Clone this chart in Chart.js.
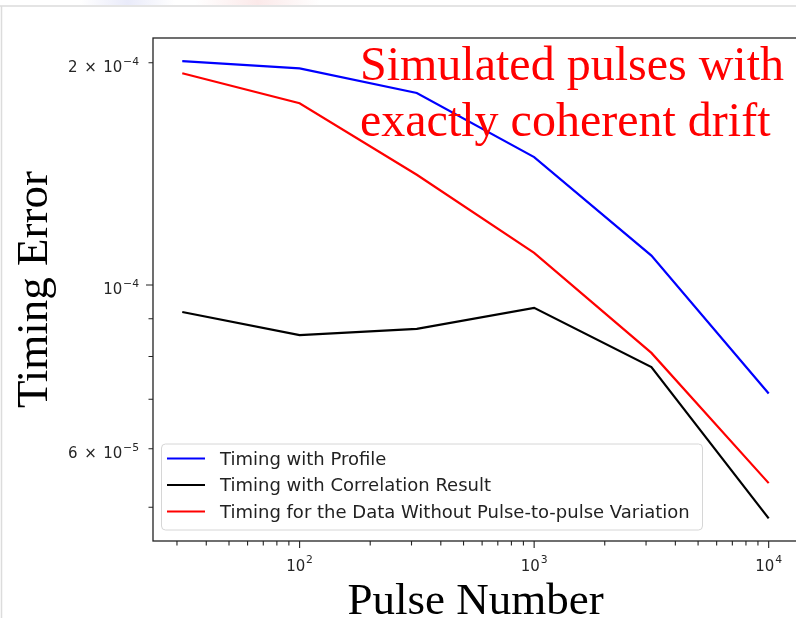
<!DOCTYPE html>
<html>
<head>
<meta charset="utf-8">
<script src="https://cdn.jsdelivr.net/npm/chart.js@4.4.1/dist/chart.umd.min.js"></script>
<style>
  html, body { margin: 0; padding: 0; background: #fff; overflow: hidden; width: 796px; height: 618px; }
  canvas { display: block; }
</style>
</head>
<body>
<canvas id="c" width="800" height="618"></canvas>
<script>
// Timing error versus number of pulses (log-log)
const pulseNumbers = [31.6, 100, 316, 1000, 3162, 10000];
const profileError = [2.01e-4, 1.965e-4, 1.82e-4, 1.49e-4, 1.096e-4, 7.13e-5];
const correlationError = [9.19e-5, 8.55e-5, 8.72e-5, 9.31e-5, 7.74e-5, 4.83e-5];
const noVariationError = [1.935e-4, 1.762e-4, 1.41e-4, 1.105e-4, 8.09e-5, 5.39e-5];

const seriesLabels = [
  'Timing with Profile',
  'Timing with Correlation Result',
  'Timing for the Data Without Pulse-to-pulse Variation'
];
const seriesColors = ['#0000ff', '#000000', '#ff0000'];

// tick positions; labels are [mantissa, exponent] pairs, null where unlabeled
const xTickValues = [30, 40, 50, 60, 70, 80, 90, 100, 200, 300, 400, 500, 600, 700, 800, 900,
                     1000, 2000, 3000, 4000, 5000, 6000, 7000, 8000, 9000, 10000];
const xTickLabels = [null, null, null, null, null, null, null, ['', '2'], null, null, null, null, null, null, null, null,
                     ['', '3'], null, null, null, null, null, null, null, null, ['', '4']];
const xMajorTicks = [100, 1000, 10000];

const yTickValues = [5e-5, 6e-5, 7e-5, 8e-5, 9e-5, 1e-4, 2e-4];
const yTickLabels = [null, ['6', '\u22125'], null, null, null, ['', '\u22124'], ['2', '\u22124']];
const yMajorTicks = [1e-4];

const titleX = 'Pulse Number';
const titleY = 'Timing Error';
const noteLines = ['Simulated pulses with', 'exactly coherent drift'];

Chart.defaults.font.family = '"DejaVu Sans", sans-serif';
Chart.defaults.color = '#222';

const seriesValues = [profileError, correlationError, noVariationError];

const datasets = seriesValues.map((vals, i) => ({
  label: seriesLabels[i],
  data: pulseNumbers.map((x, j) => ({ x: x, y: vals[j] })),
  borderColor: seriesColors[i],
  backgroundColor: seriesColors[i],
  borderWidth: 2.2,
  pointRadius: 0,
  tension: 0,
  fill: false,
  order: 2 - i
}));

function roundRectPath(ctx, x, y, w, h, r) {
  ctx.beginPath();
  ctx.moveTo(x + r, y);
  ctx.lineTo(x + w - r, y);
  ctx.arcTo(x + w, y, x + w, y + r, r);
  ctx.lineTo(x + w, y + h - r);
  ctx.arcTo(x + w, y + h, x + w - r, y + h, r);
  ctx.lineTo(x + r, y + h);
  ctx.arcTo(x, y + h, x, y + h - r, r);
  ctx.lineTo(x, y + r);
  ctx.arcTo(x, y, x + r, y, r);
  ctx.closePath();
}

const BASE_FONT = '15px "DejaVu Sans"';
const SUP_FONT = '10.8px "DejaVu Sans"';

// draws "m × 10^e" with a raised exponent; align 'right' or 'center' at x
function drawPowerLabel(ctx, label, x, baseline, align) {
  const [mant, expo] = label;
  ctx.font = BASE_FONT;
  const mantW = mant ? ctx.measureText(mant).width : 0;
  const timesW = mant ? ctx.measureText('\u00d7').width : 0;
  const gap = 6.5;
  const tenW = ctx.measureText('10').width;
  ctx.font = SUP_FONT;
  const expW = ctx.measureText(expo).width;
  const total = (mant ? mantW + gap + timesW + gap : 0) + tenW + 0.8 + expW;
  let cx = align === 'right' ? x - total : x - total / 2;
  ctx.textAlign = 'left';
  ctx.textBaseline = 'alphabetic';
  ctx.font = BASE_FONT;
  if (mant) {
    ctx.fillText(mant, cx, baseline);
    cx += mantW + gap;
    ctx.fillText('\u00d7', cx, baseline);
    cx += timesW + gap;
  }
  ctx.fillText('10', cx, baseline);
  cx += tenW + 0.8;
  ctx.font = SUP_FONT;
  ctx.fillText(expo, cx, baseline - 7.2);
}

const decorations = {
  id: 'decorations',
  beforeDraw(chart) {
    const ctx = chart.ctx;
    ctx.save();
    ctx.fillStyle = '#ffffff';
    ctx.fillRect(0, 0, chart.width, chart.height);
    // faint tints along the top edge
    let g = ctx.createLinearGradient(80, 0, 175, 0);
    g.addColorStop(0, 'rgba(215,218,245,0)');
    g.addColorStop(0.5, 'rgba(215,218,245,0.55)');
    g.addColorStop(1, 'rgba(215,218,245,0)');
    ctx.fillStyle = g;
    ctx.fillRect(80, 0, 95, 5);
    g = ctx.createLinearGradient(195, 0, 320, 0);
    g.addColorStop(0, 'rgba(248,215,215,0)');
    g.addColorStop(0.5, 'rgba(248,215,215,0.55)');
    g.addColorStop(1, 'rgba(248,215,215,0)');
    ctx.fillStyle = g;
    ctx.fillRect(195, 0, 125, 5);
    // light page frame
    ctx.strokeStyle = '#dcdcdc';
    ctx.lineWidth = 1.5;
    ctx.beginPath();
    ctx.moveTo(0, 6);
    ctx.lineTo(chart.width, 6);
    ctx.moveTo(1.5, 6);
    ctx.lineTo(1.5, chart.height);
    ctx.stroke();
    ctx.restore();
  },
  afterDraw(chart) {
    const ctx = chart.ctx;
    const a = chart.chartArea;
    const xs = chart.scales.x;
    const ys = chart.scales.y;
    ctx.save();

    // axes frame
    ctx.strokeStyle = '#222';
    ctx.lineWidth = 1.3;
    ctx.strokeRect(a.left, a.top, a.right - a.left, a.bottom - a.top);

    // tick marks
    ctx.lineWidth = 1.1;
    ctx.beginPath();
    xTickValues.forEach(v => {
      const px = xs.getPixelForValue(v);
      const len = xMajorTicks.includes(v) ? 7 : 4.5;
      ctx.moveTo(px, a.bottom);
      ctx.lineTo(px, a.bottom + len);
    });
    yTickValues.forEach(v => {
      const py = ys.getPixelForValue(v);
      const len = yMajorTicks.includes(v) ? 7 : 4.5;
      ctx.moveTo(a.left, py);
      ctx.lineTo(a.left - len, py);
    });
    ctx.stroke();

    // tick labels
    ctx.fillStyle = '#262626';
    xTickValues.forEach((v, i) => {
      if (xTickLabels[i]) drawPowerLabel(ctx, xTickLabels[i], xs.getPixelForValue(v), a.bottom + 29.5, 'center');
    });
    yTickValues.forEach((v, i) => {
      if (yTickLabels[i]) drawPowerLabel(ctx, yTickLabels[i], a.left - 14, ys.getPixelForValue(v) + 9.3, 'right');
    });

    // legend
    const lx = 161.5, ly = 444, lw = 541, lh = 86;
    roundRectPath(ctx, lx, ly, lw, lh, 4);
    ctx.fillStyle = 'rgba(255,255,255,0.85)';
    ctx.fill();
    ctx.strokeStyle = '#d6d6d6';
    ctx.lineWidth = 1;
    ctx.stroke();
    chart.data.datasets.forEach((ds, i) => {
      const ry = 458.5 + i * 26.5;
      ctx.strokeStyle = ds.borderColor;
      ctx.lineWidth = 2.2;
      ctx.beginPath();
      ctx.moveTo(167, ry);
      ctx.lineTo(205, ry);
      ctx.stroke();
      ctx.fillStyle = '#222';
      ctx.font = '18px "DejaVu Sans"';
      ctx.textAlign = 'left';
      ctx.textBaseline = 'middle';
      ctx.fillText(ds.label, 220, ry + 1.5);
    });

    // axis titles
    ctx.fillStyle = '#000';
    ctx.font = '45px "Liberation Serif"';
    ctx.textAlign = 'center';
    ctx.textBaseline = 'alphabetic';
    ctx.fillText(titleX, (a.left + a.right) / 2, 614);
    ctx.save();
    ctx.translate(47, (a.top + a.bottom) / 2);
    ctx.rotate(-Math.PI / 2);
    ctx.fillText(titleY, 0, 0);
    ctx.restore();

    // note text
    ctx.fillStyle = '#ff0000';
    ctx.font = '48px "Liberation Serif"';
    ctx.textAlign = 'left';
    noteLines.forEach((t, i) => ctx.fillText(t, 360, 80 + i * 56));

    ctx.restore();
  }
};

new Chart(document.getElementById('c'), {
  type: 'line',
  data: { datasets: datasets },
  options: {
    responsive: false,
    animation: false,
    devicePixelRatio: 1,
    layout: { padding: { top: 38, right: 2, left: 0, bottom: 0 } },
    plugins: { legend: { display: false }, tooltip: { enabled: false } },
    scales: {
      x: {
        type: 'logarithmic',
        min: 23.71,
        max: 13335,
        grid: { display: false, drawTicks: false, tickLength: 0 },
        border: { display: false },
        ticks: { display: false, autoSkip: false },
        afterBuildTicks: (scale) => { scale.ticks = xTickValues.map(v => ({ value: v })); },
        afterFit: (scale) => { scale.height = 77; scale.paddingLeft = 0; scale.paddingRight = 0; }
      },
      y: {
        type: 'logarithmic',
        min: 4.50e-5,
        max: 2.16e-4,
        grid: { display: false, drawTicks: false, tickLength: 0 },
        border: { display: false },
        ticks: { display: false, autoSkip: false },
        afterBuildTicks: (scale) => { scale.ticks = yTickValues.map(v => ({ value: v })); },
        afterFit: (scale) => { scale.width = 153; scale.paddingTop = 0; scale.paddingBottom = 0; }
      }
    }
  },
  plugins: [decorations]
});
</script>
</body>
</html>
